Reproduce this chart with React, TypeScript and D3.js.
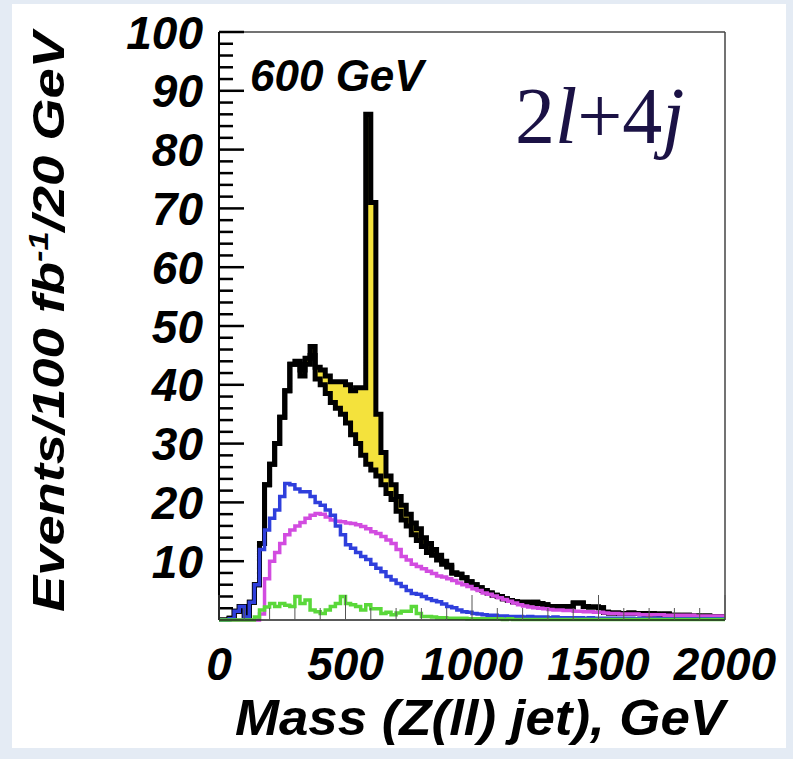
import React from 'react';
import * as d3 from 'd3';

// Histogram binning: 100 bins of 20 GeV from 0 to 2000 GeV
const BIN_WIDTH = 20;
const binStarts: number[] = d3.range(0, 2000, BIN_WIDTH);

// Total Standard Model background (events / 20 GeV)
const background: number[] = [
  0, 0, 0.3, 1.5, 2.3, 0.5, 3, 6, 13, 23,
  26.5, 30, 34.5, 39, 43.5, 43.5, 41.5, 43.5, 45, 41,
  40, 38.5, 37, 36, 35, 33.5, 31.5, 30, 28, 26.5,
  25.5, 24.5, 23, 21.5, 20.5, 18.5, 17, 16, 14.5, 13.5,
  12.5, 11.5, 11, 10.2, 9.5, 9, 8, 7.8, 7.2, 6.5,
  6, 5.5, 5, 4.6, 4.2, 4, 3.6, 3.3, 3.1, 3,
  3, 2.9, 3, 2.8, 2.6, 2.3, 2.3, 2.2, 2.3, 2.2,
  2.9, 2.9, 2.3, 2.2, 2.2, 2.1, 1.3, 1.2, 1.2, 1.1,
  1.1, 1.2, 1.1, 1.1, 1.0, 1.1, 1.0, 0.9, 1.0, 0.8,
  0.8, 0.7, 0.8, 0.7, 0.7, 0.6, 0.7, 0.6, 0.6, 0.6,
];

// 600 GeV signal stacked on top of the background
const signal: number[] = [
  0, 0, 0, 0, 0, 0, 0, 0, 0, 0,
  0, 0, 0, 0, 0, 0.5, 1, 1, 1.5, 2,
  2.5, 3, 3.5, 4.5, 5.5, 6.5, 7.5, 9.5, 11.5, 59.5,
  45.5, 10.5, 5.5, 3, 2.5, 2.5, 2.5, 2, 2, 2,
  1.5, 1.5, 1, 0.8, 0.5, 0.3, 0, 0, 0, 0,
  0, 0, 0, 0, 0, 0, 0, 0, 0, 0,
  0, 0, 0, 0, 0, 0, 0, 0, 0, 0,
  0, 0, 0, 0, 0, 0, 0, 0, 0, 0,
  0, 0, 0, 0, 0, 0, 0, 0, 0, 0,
  0, 0, 0, 0, 0, 0, 0, 0, 0, 0,
];

// Individual background components
const bkgBlue: number[] = [
  0, 0, 0.2, 1.5, 2.3, 0.5, 3, 6, 12, 15.3,
  17.3, 18.7, 21, 23.2, 23, 22.3, 21.8, 21.8, 21, 20,
  19.5, 18.7, 17.8, 16, 14.5, 12.8, 12.2, 11.5, 10.8, 10.3,
  9.5, 8.8, 8.2, 7.4, 6.8, 6.2, 5.7, 5, 4.5, 4.4,
  4, 3.6, 3.3, 3.1, 2.7, 2.3, 2.1, 1.7, 1.4, 1.3,
  1.1, 1.0, 0.9, 0.8, 0.8, 0.7, 0.7, 0.6, 0.6, 0.6,
  0.5, 0.6, 0.5, 0.5, 0.5, 0.4, 0.5, 0.4, 0.4, 0.4,
  0.4, 0.4, 0.3, 0.4, 0.3, 0.3, 0.3, 0.3, 0.3, 0.3,
  0.3, 0.3, 0.2, 0.3, 0.2, 0.2, 0.3, 0.2, 0.2, 0.2,
  0.2, 0.2, 0.2, 0.2, 0.2, 0.2, 0.2, 0.2, 0.2, 0.2,
];

const bkgMagenta: number[] = [
  0, 0, 0, 0, 0, 0, 0, 0, 1, 7,
  10, 11.5, 13, 14.5, 15.3, 16, 16.6, 17.3, 17.8, 18.1,
  18, 17.5, 17, 16.8, 16.7, 16.5, 16.4, 16.2, 15.9, 15.5,
  15, 14.7, 14.2, 13.6, 13, 12, 10.8, 10.2, 9.5, 9.1,
  8.7, 8.3, 7.9, 7.5, 7.3, 7, 6.7, 6.3, 6, 5.7,
  5.3, 5, 4.6, 4.4, 4.1, 3.8, 3.5, 3.2, 2.9, 2.6,
  2.4, 2.2, 2.1, 2, 1.9, 1.8, 1.7, 1.7, 1.6, 1.6,
  1.5, 1.5, 1.4, 1.4, 1.3, 1.3, 1.2, 1.1, 1.1, 1.0,
  1.0, 1.0, 1.0, 0.9, 0.9, 0.9, 0.9, 0.9, 0.8, 0.8,
  0.8, 0.8, 0.8, 0.8, 0.7, 0.7, 0.7, 0.7, 0.7, 0.7,
];

const bkgGreen: number[] = [
  0, 0, 0, 0, 0, 0, 0, 0.5, 1.7, 2.2,
  2.8, 2.3, 2.8, 2.5, 2.3, 4, 2.8, 3.4, 1.7, 1.4,
  1.1, 1.7, 2.3, 2.8, 4, 2.8, 2.6, 2.3, 1.7, 2.6,
  1.9, 1.9, 1.1, 1.3, 0.9, 1.2, 1.5, 1.5, 2.3, 1.1,
  0.6, 0.6, 0.5, 0.4, 0.4, 0.3, 0.3, 0.3, 0.3, 0.2,
  0.2, 0.2, 0.2, 0.2, 0.2, 0.2, 0.1, 0.2, 0.1, 0.1,
  0.1, 0.1, 0.1, 0.1, 0.1, 0.1, 0.1, 0.1, 0.1, 0.1,
  0.1, 0.1, 0.1, 0.1, 0.1, 0.1, 0.1, 0.1, 0.1, 0.1,
  0.1, 0.1, 0.1, 0.1, 0.1, 0.1, 0.1, 0.1, 0.1, 0.1,
  0.1, 0.1, 0.1, 0.1, 0.1, 0.1, 0.1, 0.1, 0.1, 0.1,
];

const xTickValues = [0, 500, 1000, 1500, 2000];
const yTickValues = [10, 20, 30, 40, 50, 60, 70, 80, 90, 100];

const W = 793;
const H = 759;
const PLOT = { left: 219, right: 725, top: 32, bottom: 620 };
const SANS = '"Liberation Sans", Arial, Helvetica, sans-serif';
const SERIF = '"Liberation Serif", "Times New Roman", serif';

const x = d3.scaleLinear().domain([0, 2000]).range([PLOT.left, PLOT.right]);
const y = d3.scaleLinear().domain([0, 100]).range([PLOT.bottom, PLOT.top]);

type Pt = [number, number];
const stepPoints = (vals: number[]): Pt[] => {
  const pts: Pt[] = binStarts.map((b, i) => [b, vals[i]] as Pt);
  pts.push([2000, vals[vals.length - 1]]);
  return pts;
};

const stepLine = d3
  .line<Pt>()
  .x((d) => x(d[0]))
  .y((d) => y(d[1]))
  .curve(d3.curveStepAfter);

const stepArea = d3
  .area<Pt>()
  .x((d) => x(d[0]))
  .y0(y(0))
  .y1((d) => y(d[1]))
  .curve(d3.curveStepAfter);

const total = background.map((b, i) => b + signal[i]);

export default function App() {
  const totalPts = stepPoints(total);
  const bkgPts = stepPoints(background);

  const yMinor = d3.range(0, 101, 2).filter((v) => v % 10 !== 0);
  const xMinor = d3.range(0, 2001, 100).filter((v) => v % 500 !== 0);

  return (
    <div style={{ position: 'absolute', left: 0, top: 0 }}>
      <svg width={W} height={H} viewBox={`0 0 ${W} ${H}`}>
        <defs>
          <clipPath id="plot-clip">
            <rect x={PLOT.left} y={PLOT.top - 2} width={PLOT.right - PLOT.left} height={PLOT.bottom - PLOT.top + 4} />
          </clipPath>
        </defs>
        <rect x={0} y={0} width={W} height={H} fill="#e4ebf4" />
        <rect x={12} y={4} width={774} height={744} fill="#ffffff" />

        <g clipPath="url(#plot-clip)">
          <path d={stepArea(totalPts) ?? ''} fill="#f4e23c" />
          <path d={stepArea(bkgPts) ?? ''} fill="#ffffff" />
          <path d={stepLine(totalPts) ?? ''} fill="none" stroke="#000" strokeWidth={5} />
          <path d={stepLine(bkgPts) ?? ''} fill="none" stroke="#000" strokeWidth={5} />
          <path d={stepLine(stepPoints(bkgMagenta)) ?? ''} fill="none" stroke="#d24ce0" strokeWidth={3.5} />
          <path d={stepLine(stepPoints(bkgBlue)) ?? ''} fill="none" stroke="#2f3fdc" strokeWidth={3.5} />
          <path d={stepLine(stepPoints(bkgGreen)) ?? ''} fill="none" stroke="#5ad83a" strokeWidth={3.5} />
        </g>

        {/* frame */}
        <line x1={PLOT.left} x2={PLOT.right} y1={PLOT.top} y2={PLOT.top} stroke="#444" strokeWidth={1.5} />
        <line x1={PLOT.right} x2={PLOT.right} y1={PLOT.top} y2={PLOT.bottom} stroke="#444" strokeWidth={1.5} />
        <line x1={PLOT.left} x2={PLOT.left} y1={PLOT.top} y2={PLOT.bottom} stroke="#000" strokeWidth={2} />
        <line x1={PLOT.left} x2={PLOT.right} y1={PLOT.bottom} y2={PLOT.bottom} stroke="#222" strokeWidth={1.5} />

        {/* y ticks */}
        {yTickValues.map((v) => (
          <line key={`ym${v}`} x1={PLOT.left} x2={PLOT.left + 25} y1={y(v)} y2={y(v)} stroke="#000" strokeWidth={2.5} />
        ))}
        {yMinor.map((v) => (
          <line key={`yn${v}`} x1={PLOT.left} x2={PLOT.left + 14} y1={y(v)} y2={y(v)} stroke="#000" strokeWidth={2.5} />
        ))}
        {/* x ticks */}
        {xTickValues.map((v) => (
          <line key={`xm${v}`} x1={x(v)} x2={x(v)} y1={PLOT.bottom} y2={PLOT.bottom - 25} stroke="#555" strokeWidth={1} />
        ))}
        {xMinor.map((v) => (
          <line key={`xn${v}`} x1={x(v)} x2={x(v)} y1={PLOT.bottom} y2={PLOT.bottom - 12} stroke="#555" strokeWidth={1} />
        ))}

        {/* tick labels */}
        <g fontFamily={SANS} fontWeight="bold" fontStyle="italic" fontSize={46} fill="#000">
          {yTickValues.map((v) => (
            <text key={`yl${v}`} x={203} y={y(v)} dy="0.36em" textAnchor="end">
              {v}
            </text>
          ))}
          {xTickValues.map((v) => (
            <text key={`xl${v}`} x={x(v)} y={680} textAnchor="middle">
              {v}
            </text>
          ))}
        </g>

        {/* axis titles */}
        <text
          x={725}
          y={735}
          textAnchor="end"
          fontFamily={SANS}
          fontWeight="bold"
          fontStyle="italic"
          fontSize={50}
          textLength={490}
          lengthAdjust="spacingAndGlyphs"
        >
          Mass (Z(ll) jet), GeV
        </text>
        <text
          transform="translate(64,322) rotate(-90)"
          textAnchor="middle"
          fontFamily={SANS}
          fontWeight="bold"
          fontStyle="italic"
          fontSize={44}
          textLength={580}
          lengthAdjust="spacingAndGlyphs"
        >
          Events/100 fb
          <tspan fontSize={28} dy={-16}>-1</tspan>
          <tspan dy={16}>/20 GeV</tspan>
        </text>

        {/* annotations */}
        <text x={250} y={91} fontFamily={SANS} fontWeight="bold" fontStyle="italic" fontSize={44}>
          600 GeV
        </text>
        <text x={515} y={143} fontFamily={SERIF} fontSize={80} fill="#1b1245">
          2<tspan fontStyle="italic">l</tspan>+4<tspan fontStyle="italic">j</tspan>
        </text>
      </svg>
    </div>
  );
}
